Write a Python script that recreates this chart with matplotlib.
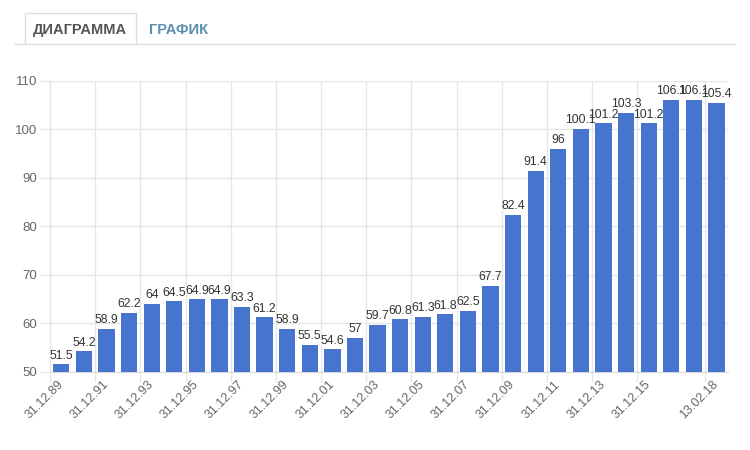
import matplotlib
matplotlib.use("Agg")
import matplotlib.pyplot as plt
from matplotlib.lines import Line2D
from matplotlib.patches import Polygon

categories = ["31.12.89", "31.12.90", "31.12.91", "31.12.92", "31.12.93", "31.12.94",
              "31.12.95", "31.12.96", "31.12.97", "31.12.98", "31.12.99", "31.12.00",
              "31.12.01", "31.12.02", "31.12.03", "31.12.04", "31.12.05", "31.12.06",
              "31.12.07", "31.12.08", "31.12.09", "31.12.10", "31.12.11", "31.12.12",
              "31.12.13", "31.12.14", "31.12.15", "31.12.16", "31.12.17", "13.02.18"]
values = [51.5, 54.2, 58.9, 62.2, 64, 64.5, 64.9, 64.9, 63.3, 61.2, 58.9, 55.5,
          54.6, 57, 59.7, 60.8, 61.3, 61.8, 62.5, 67.7, 82.4, 91.4, 96, 100.1,
          101.2, 103.3, 101.2, 106.1, 106.1, 105.4]
y_ticks = [50, 60, 70, 80, 90, 100, 110]
shown = list(range(0, 27, 2)) + [len(categories) - 1]

W, H = 750, 450
fig = plt.figure(figsize=(W / 100, H / 100), dpi=100)
plt.rcParams['font.family'] = ['Liberation Sans', 'DejaVu Sans']

def fx(px):
    return px / W

def fy(py):
    return 1 - py / H

left, right, top, bottom = 50, 727.7, 80.7, 371.7
ax = fig.add_axes([fx(left), fy(bottom), fx(right - left), (bottom - top) / H])

grid_c = '#e6e6e6'
bar_c = '#4774cf'
n = len(categories)
x = list(range(n))
ax.bar(x, [v - 50 for v in values], bottom=50, width=0.72, color=bar_c, zorder=3)
ax.set_xlim(-0.5, n - 0.5)
ax.set_ylim(50, 110)

for i, v in enumerate(values):
    ax.annotate(f"{v:g}", (i, v), xytext=(0, 2), textcoords='offset points',
                ha='center', va='bottom', fontsize=8.8, color='#333333', zorder=4)

# gridlines at category boundaries of labelled ticks
ax.set_xticks([i - 0.5 for i in shown])
ax.set_xticklabels([])
ax.set_xticks(shown, minor=True)
ax.set_xticklabels([categories[i] for i in shown], minor=True, rotation=45,
                   ha='right', rotation_mode='anchor', fontsize=9, color='#666666')
ax.tick_params(axis='x', which='major', length=7, color=grid_c, width=1)
ax.tick_params(axis='x', which='minor', length=0, pad=8)
for lbl in ax.get_xticklabels(minor=True):
    lbl.set_verticalalignment('center')
ax.set_yticks(y_ticks)
ax.set_yticklabels([str(t) for t in y_ticks], fontsize=9.5, color='#666666')
ax.tick_params(axis='y', length=7, color=grid_c, width=1, pad=2)
ax.grid(True, which='major', color=grid_c, linewidth=1, zorder=0)
for s in ['top', 'right']:
    ax.spines[s].set_visible(False)
for s in ['left', 'bottom']:
    ax.spines[s].set_color('#d9d9d9')
    ax.spines[s].set_zorder(1)

# tabs header
fig.add_artist(Line2D([fx(15), fx(735)], [fy(44), fy(44)], color='#dddddd', lw=1))
tab = Polygon([(fx(25), fy(44)), (fx(25), fy(13)), (fx(136), fy(13)), (fx(136), fy(44))],
              closed=False, fill=True, facecolor='white', edgecolor='#dddddd', lw=1)
fig.add_artist(tab)
fig.text(fx(80), fy(30), "ДИАГРАММА", ha='center', va='center', fontsize=10.5,
         fontweight='bold', color='#555555')
fig.text(fx(179), fy(30), "ГРАФИК", ha='center', va='center', fontsize=10.5,
         fontweight='bold', color='#5b8fb0')

fig.savefig("out.png", dpi=100, facecolor='white')
